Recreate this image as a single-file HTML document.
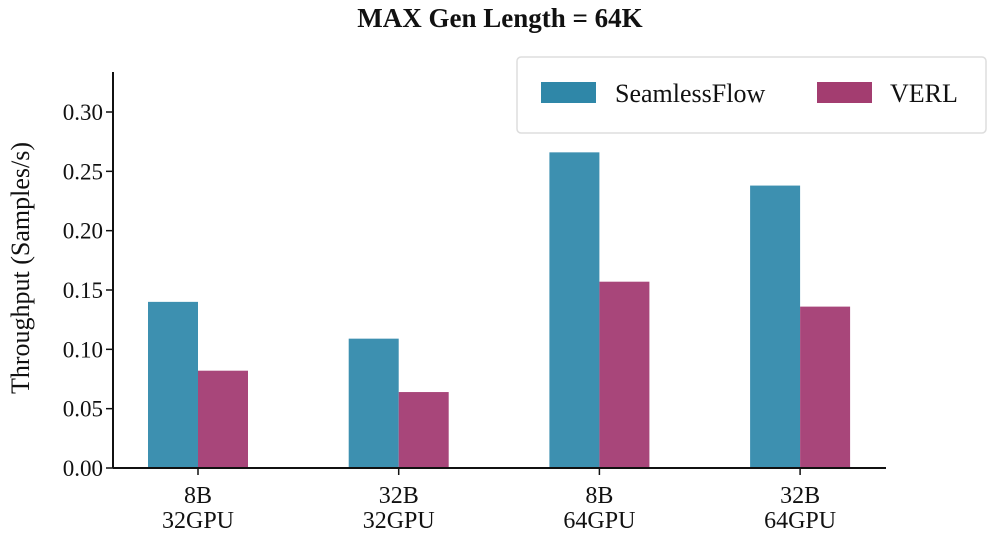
<!DOCTYPE html>
<html><head><meta charset="utf-8"><style>
html,body{margin:0;padding:0;background:#fff;width:1000px;height:551px;overflow:hidden}
svg text{font-family:"Liberation Serif",serif;fill:#111}
</style></head><body>
<svg id="chart" width="1000" height="551">
<text x="500" y="27" text-anchor="middle" font-size="27" font-weight="bold">MAX Gen Length = 64K</text>
<g id="plot"></g>
<text transform="translate(29,268) rotate(-90)" text-anchor="middle" font-size="26">Throughput (Samples/s)</text>
<g>
<rect x="517" y="57" width="469" height="76" rx="4" fill="#fff" stroke="#ddd" stroke-width="1.5"/>
<rect x="541" y="82" width="55" height="21" fill="#2f87a8"/>
<text x="615" y="102" font-size="26">SeamlessFlow</text>
<rect x="817" y="82" width="55" height="21" fill="#a33d70"/>
<text x="890" y="102" font-size="26">VERL</text>
</g>
</svg>
<script>
const categories = [["8B","32GPU"],["32B","32GPU"],["8B","64GPU"],["32B","64GPU"]];
const seamless = [0.140, 0.109, 0.266, 0.238];
const verl = [0.082, 0.064, 0.157, 0.136];
const yTicks = [0,0.05,0.10,0.15,0.20,0.25,0.30];
const yTickLabels = ["0.00","0.05","0.10","0.15","0.20","0.25","0.30"];

const NS="http://www.w3.org/2000/svg";
const g=document.getElementById('plot');
const x0=113,x1=886,yBase=468,yTop=72;
const y=v=>yBase-v/0.30*356;
const cx=i=>198+i*200.7;
const bw=50;
function mk(t,a){const e=document.createElementNS(NS,t);for(const k in a)e.setAttribute(k,a[k]);g.appendChild(e);return e;}
yTicks.forEach((v,i)=>{
  const l=mk('line',{x1:x0-7,x2:x0,y1:y(v),y2:y(v),stroke:'#111','stroke-width':1.5});
  
  
  const t=mk('text',{x:x0-10,y:y(v)+8,'text-anchor':'end','font-size':23});
  t.textContent=yTickLabels[i];
  
  
});
categories.forEach((c,i)=>{
  const b1=mk('rect',{x:cx(i)-bw,y:y(seamless[i]),width:bw,height:yBase-y(seamless[i]),fill:'#3d90b0'});
  
  
  const b2=mk('rect',{x:cx(i),y:y(verl[i]),width:bw,height:yBase-y(verl[i]),fill:'#a8467a'});
  
  
  const tk=mk('line',{x1:cx(i),x2:cx(i),y1:yBase,y2:yBase+7,stroke:'#111','stroke-width':1.5});
  
  
  c.forEach((s,j)=>{
    const t=mk('text',{x:cx(i),y:503+j*25,'text-anchor':'middle','font-size':24});
    t.textContent=s;
    
    
  });
});
const ya=mk('line',{x1:x0,x2:x0,y1:yTop,y2:yBase,stroke:'#111','stroke-width':2});


const xa=mk('line',{x1:x0,x2:x1,y1:yBase,y2:yBase,stroke:'#111','stroke-width':2});


</script>
</body></html>
